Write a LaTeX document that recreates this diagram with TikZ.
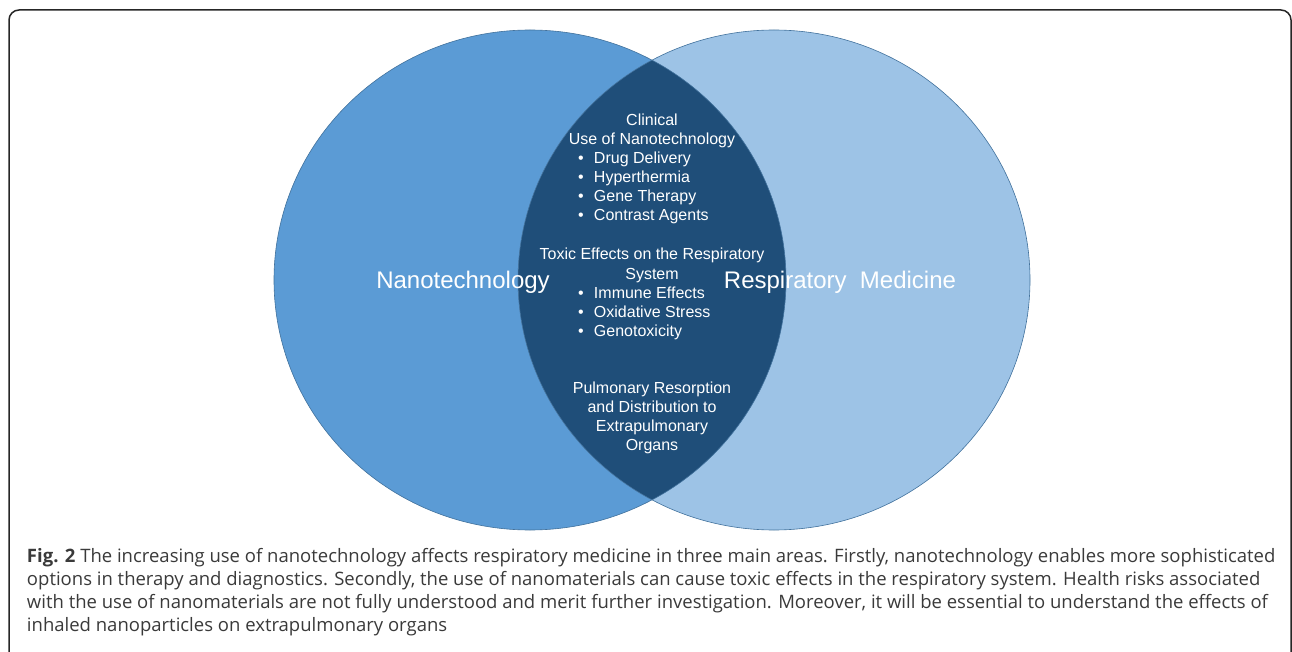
\documentclass[tikz,border=0pt]{standalone}
\usepackage{fontspec}
\setmainfont{Liberation Sans}
\newfontfamily\legendefont{Open Sans}
\usetikzlibrary{positioning}
\definecolor{nanobleu}{HTML}{5B9BD5}
\definecolor{respibleu}{HTML}{9DC3E6}
\definecolor{lentille}{HTML}{1F4E79}
\definecolor{contour}{HTML}{41719C}
\definecolor{legende}{HTML}{3A3A3A}
\newcommand{\puce}{\makebox[16pt][l]{\textbullet}}

\begin{document}
\begin{tikzpicture}[x=1pt, y=-1pt, every node/.style={inner sep=0pt, outer sep=0pt},
  texte/.style={white, font=\fontsize{16}{19}\selectfont, align=center},
  liste/.style={white, font=\fontsize{16}{19}\selectfont, align=left},
  titre/.style={white, font=\fontsize{24}{28}\selectfont}]

  % === CADRE ===
  \useasboundingbox (0,0) rectangle (1292,652);
  \draw[line width=1.5pt, black!85, rounded corners=10pt] (9,10) rectangle (1291,690);

  % === ELLIPSES ===
  \pgfmathsetmacro{\xN}{530}  % centre Nanotechnology
  \pgfmathsetmacro{\xR}{774}  % centre Respiratory Medicine
  \pgfmathsetmacro{\yc}{280}
  \fill[nanobleu] (\xN,\yc) ellipse [x radius=256pt, y radius=250pt];
  \fill[respibleu] (\xR,\yc) ellipse [x radius=256pt, y radius=250pt];

  % Zone commune
  \begin{scope}
    \clip (\xN,\yc) ellipse [x radius=256pt, y radius=250pt];
    \fill[lentille] (\xR,\yc) ellipse [x radius=256pt, y radius=250pt];
  \end{scope}

  % Contours
  \draw[contour, semithick] (\xN,\yc) ellipse [x radius=256pt, y radius=250pt];
  \draw[contour, semithick] (\xR,\yc) ellipse [x radius=256pt, y radius=250pt];

  % === TITRES ===
  \node[titre, anchor=base] (nano) at (463,288) {Nanotechnology};
  \node[titre, anchor=base] (respi) at (840,288) {Respiratory\ \ Medicine};

  % === TEXTES COMMUNS (base = derniere ligne) ===
  \node[texte, anchor=base] (clinique) at (652,145) {Clinical\\Use of Nanotechnology};
  \node[liste, anchor=base west] (cliniqueliste) at (578,221)
    {\puce Drug Delivery\\\puce Hyperthermia\\\puce Gene Therapy\\\puce Contrast Agents};

  \node[texte, anchor=base] (toxique) at (652,279) {Toxic Effects on the Respiratory\\System};
  \node[liste, anchor=base west] (toxiqueliste) at (578,336)
    {\puce Immune Effects\\\puce Oxidative Stress\\\puce Genotoxicity};

  \node[texte, anchor=base] (pulmo) at (652,450)
    {Pulmonary Resorption\\and Distribution to\\Extrapulmonary\\Organs};

  % === LEGENDE ===
  \node[legende, anchor=base west, align=left, font=\legendefont\fontsize{18.5}{23}\selectfont] (fig) at (27,631)
    {\textbf{Fig. 2} The increasing use of nanotechnology affects respiratory medicine in three main areas. Firstly, nanotechnology enables more sophisticated\\
     options in therapy and diagnostics. Secondly, the use of nanomaterials can cause toxic effects in the respiratory system. Health risks associated\\
     with the use of nanomaterials are not fully understood and merit further investigation. Moreover, it will be essential to understand the effects of\\
     inhaled nanoparticles on extrapulmonary organs};

\end{tikzpicture}
\end{document}
